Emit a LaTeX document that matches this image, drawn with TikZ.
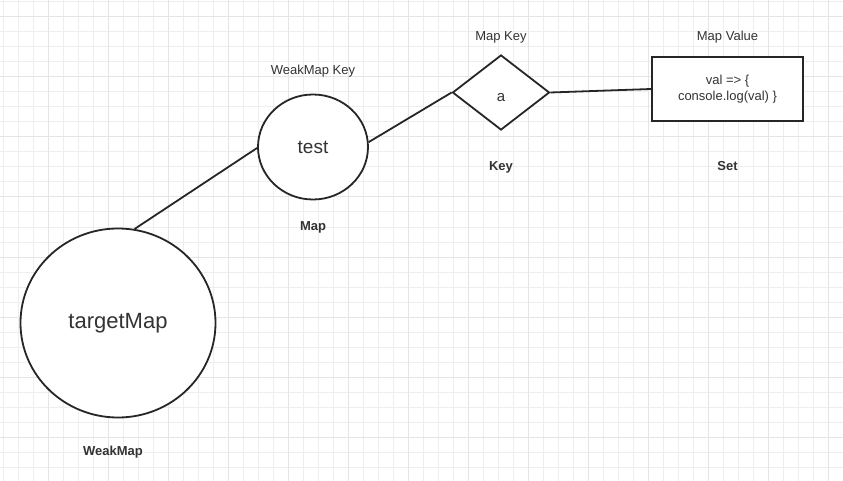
\documentclass[tikz,border=0pt]{standalone}
\usepackage{fontspec}
\setmainfont{Liberation Sans}
\usepackage{xcolor}
\definecolor{ink}{RGB}{38,38,38}
\definecolor{txt}{RGB}{51,51,51}
\definecolor{gridlo}{RGB}{238,238,238}
\definecolor{gridhi}{RGB}{229,229,229}
\usepackage{tikz}
\usetikzlibrary{positioning,shapes.geometric}

\begin{document}
\begin{tikzpicture}[
  x=1pt, y=-1pt,
  blob/.style={ellipse,draw=ink,fill=white,line width=1.8pt,
               inner sep=0pt,text=txt},
  keybox/.style={diamond,draw=ink,fill=white,line width=1.8pt,
                 minimum width=97pt,minimum height=75pt,inner sep=0pt,
                 aspect=1.3,text height=18pt,text depth=0pt,
                 font=\fontsize{15}{18}\selectfont,text=txt},
  valbox/.style={rectangle,draw=ink,fill=white,line width=1.8pt,
                 minimum width=151pt,minimum height=64pt,align=center,
                 font=\fontsize{13}{16}\selectfont,text=txt},
  lbl/.style={inner sep=0pt,text height=9.5pt,text depth=2.5pt,
              font=\fontsize{13}{16}\selectfont,text=txt},
  lblb/.style={lbl,font=\fontsize{13}{16}\selectfont\bfseries},
  link/.style={draw=ink,line width=1.8pt},
]
  \useasboundingbox (0,0) rectangle (843,481);
  \fill[white] (0,0) rectangle (843,481);

  %% grid
  \foreach \gx in {3,18,...,843}
    \draw[gridlo,line width=1pt] (\gx,0) -- (\gx,481);
  \foreach \gy in {2,17,...,481}
    \draw[gridlo,line width=1pt] (0,\gy) -- (843,\gy);
  \foreach \gx in {48,108,...,843}
    \draw[gridhi,line width=1pt] (\gx,0) -- (\gx,481);
  \foreach \gy in {17,77,...,481}
    \draw[gridhi,line width=1pt] (0,\gy) -- (843,\gy);

  %% WeakMap
  \node[blob,minimum width=195pt,minimum height=189pt,
        font=\fontsize{22}{26}\selectfont](tgt) at (118,323){targetMap};
  \node[lblb,below=27.5pt of tgt,xshift=-5pt](tgtL){WeakMap};

  %% Map
  \node[blob,minimum width=110pt,minimum height=105pt,
        font=\fontsize{19}{23}\selectfont](tst) at (313,147){test};
  \node[lbl,above=16pt of tst](tstT){WeakMap Key};
  \node[lblb,below=20.5pt of tst](tstL){Map};

  %% Key
  \node[keybox](key) at (501,92.5){a};
  \node[lbl,above=10.5pt of key](keyT){Map Key};
  \node[lblb,below=30pt of key](keyL){Key};

  %% Set
  \node[valbox](val) at (727.5,89){val => \{\\console.log(val) \}};
  \node[lbl,above=12.5pt of val](valT){Map Value};
  \node[lblb,below=39pt of val](valL){Set};

  %% links
  \draw[link] (tgt.80) -- (tst.181);
  \draw[link] (tst.5) -- (key.west);
  \draw[link] (key.east) -- (val.west);
\end{tikzpicture}
\end{document}
